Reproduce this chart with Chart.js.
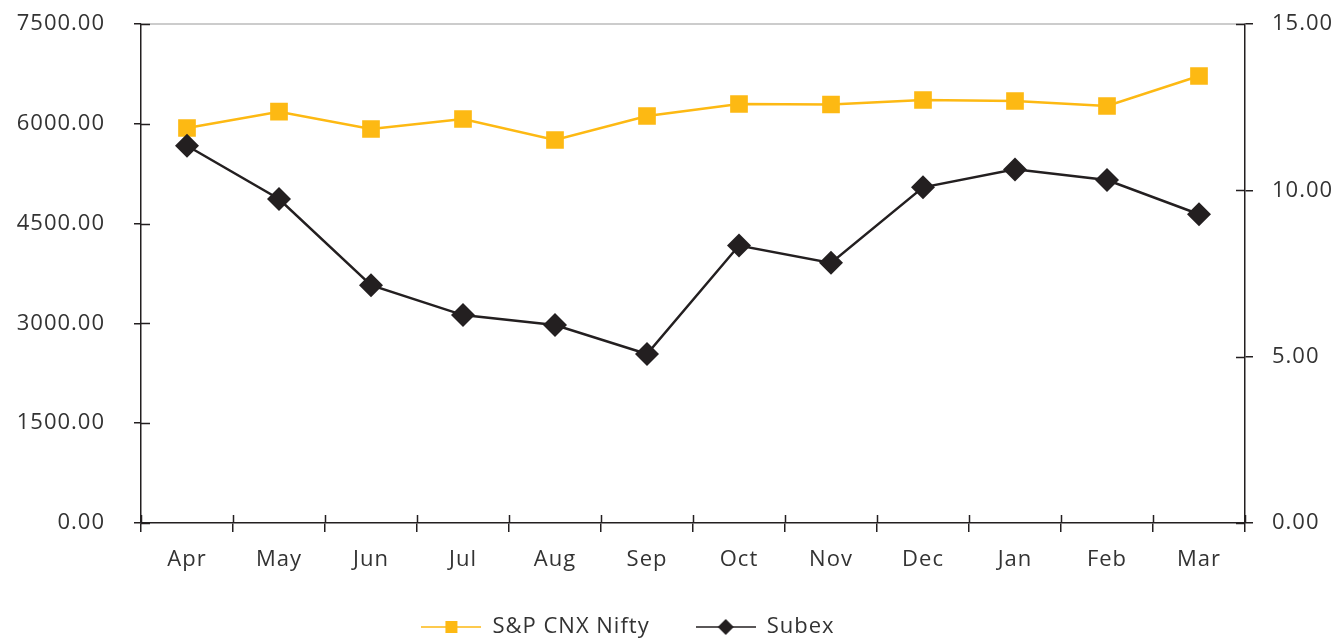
<!DOCTYPE html>
<html>
<head>
<meta charset="utf-8">
<script src="https://cdn.jsdelivr.net/npm/chart.js@4/dist/chart.umd.min.js"></script>
<style>
  html, body { margin: 0; padding: 0; background: #fff; }
  #wrap { width: 1336px; height: 638px; }
</style>
</head>
<body>
<div id="wrap"><canvas id="chart"></canvas></div>
<script>
// months on the x axis
const months = ["Apr", "May", "Jun", "Jul", "Aug", "Sep", "Oct", "Nov", "Dec", "Jan", "Feb", "Mar"];
// left axis series
const nifty = [5937, 6182, 5922, 6072, 5757, 6117, 6298, 6290, 6358, 6343, 6267, 6718];
// right axis series
const subex = [11.34, 9.74, 7.15, 6.25, 5.95, 5.08, 8.34, 7.82, 10.09, 10.63, 10.31, 9.28];
// tick settings
const leftMax = 7500, leftStep = 1500;
const rightMax = 15, rightStep = 5;

const yellow = "#FDB913";
const dark = "#231F20";
const textColor = "#333333";
const fontFamily = "'Open Sans', sans-serif";

// legend symbol: a short line with the marker in the middle
function legendIcon(color, kind) {
  const c = document.createElement("canvas");
  c.width = 60; c.height = 20;
  const g = c.getContext("2d");
  g.strokeStyle = color;
  g.lineWidth = 1.5;
  g.beginPath();
  g.moveTo(0, 10); g.lineTo(60, 10);
  g.stroke();
  g.fillStyle = color;
  if (kind == "square") {
    g.fillRect(24, 4, 12, 12);
  } else {
    g.beginPath();
    g.moveTo(30, 2); g.lineTo(38, 10); g.lineTo(30, 18); g.lineTo(22, 10);
    g.closePath();
    g.fill();
  }
  return c;
}

// the original font runs a bit wide; canvas resize resets ctx state so set it every time
const spacing = {
  id: "spacing",
  beforeUpdate(chart) { chart.ctx.letterSpacing = "1px"; },
  beforeDraw(chart) { chart.ctx.letterSpacing = "1px"; }
};

// ticks that cross the axes + light top border
const axisExtras = {
  id: "axisExtras",
  afterLayout(chart) {
    // let the month labels' descenders show below the x box
    chart.scales.x.bottom += 14;
  },
  beforeDatasetsDraw(chart) {
    const { ctx, chartArea, scales } = chart;
    ctx.save();
    ctx.strokeStyle = "#BBBBBB";
    ctx.lineWidth = 1.5;
    ctx.beginPath();
    ctx.moveTo(chartArea.left, chartArea.top);
    ctx.lineTo(chartArea.right, chartArea.top);
    ctx.stroke();

    ctx.strokeStyle = dark;
    ctx.lineWidth = 1.5;
    ctx.beginPath();
    scales.y.ticks.forEach(t => {
      const py = Math.round(scales.y.getPixelForValue(t.value)) + 0.5;
      ctx.moveTo(chartArea.left, py);
      ctx.lineTo(chartArea.left + 9, py);
    });
    scales.y1.ticks.forEach(t => {
      const py = Math.round(scales.y1.getPixelForValue(t.value)) + 0.5;
      ctx.moveTo(chartArea.right, py);
      ctx.lineTo(chartArea.right - 9, py);
    });
    const half = (scales.x.getPixelForValue(1) - scales.x.getPixelForValue(0)) / 2;
    for (let i = 0; i <= months.length; i++) {
      const px = Math.round(scales.x.getPixelForValue(i) - half) + 0.5;
      ctx.moveTo(px, chartArea.bottom);
      ctx.lineTo(px, chartArea.bottom - 8);
    }
    ctx.stroke();
    ctx.restore();
  }
};

const ctx = document.getElementById("chart");
new Chart(ctx, {
  type: "line",
  data: {
    labels: months,
    datasets: [
      {
        label: "S&P CNX Nifty",
        data: nifty,
        yAxisID: "y",
        borderColor: yellow,
        backgroundColor: yellow,
        borderWidth: 2.5,
        pointStyle: "rect",
        pointRadius: 12.5,
        pointBorderWidth: 0,
        tension: 0,
        order: 2
      },
      {
        label: "Subex",
        data: subex,
        yAxisID: "y1",
        borderColor: dark,
        backgroundColor: dark,
        borderWidth: 2.5,
        pointStyle: "rectRot",
        pointRadius: 12,
        pointBorderWidth: 0,
        tension: 0,
        order: 1
      }
    ]
  },
  options: {
    responsive: true,
    maintainAspectRatio: false,
    animation: false,
    // negative left padding moves the legend centre left; the y axis width makes up for it
    layout: { padding: { top: 24, left: -80, right: 0, bottom: -10 } },
    plugins: {
      tooltip: { enabled: false },
      legend: {
        position: "bottom",
        labels: {
          usePointStyle: true,
          pointStyleWidth: 60,
          boxHeight: 20,
          padding: 46,
          color: textColor,
          font: { family: fontFamily, size: 22 },
          generateLabels: (chart) => [
            { text: "S&P CNX Nifty", pointStyle: legendIcon(yellow, "square"), fontColor: textColor, datasetIndex: 0, lineWidth: 0, strokeStyle: "transparent", fillStyle: yellow },
            { text: "Subex", pointStyle: legendIcon(dark, "diamond"), fontColor: textColor, datasetIndex: 1, lineWidth: 0, strokeStyle: "transparent", fillStyle: dark }
          ]
        }
      }
    },
    scales: {
      x: {
        offset: true,
        grid: { display: true, offset: true, drawOnChartArea: false, color: dark, lineWidth: 1.5, tickLength: 9 },
        border: { display: true, color: dark, width: 1.5 },
        ticks: { color: textColor, font: { family: fontFamily, size: 22 }, padding: 15, maxRotation: 0 },
        afterFit: (scale) => { scale.height = 47; }
      },
      y: {
        position: "left",
        min: 0,
        max: leftMax,
        grid: { display: true, drawOnChartArea: false, color: dark, lineWidth: 1.5, tickLength: 7 },
        border: { display: true, color: dark, width: 1.5 },
        ticks: {
          stepSize: leftStep,
          color: textColor,
          font: { family: fontFamily, size: 22 },
          padding: 29,
          callback: (v) => Number(v).toFixed(2)
        },
        afterFit: (scale) => { scale.width = 221; scale.paddingTop = 0; scale.paddingBottom = 0; }
      },
      y1: {
        position: "right",
        min: 0,
        max: rightMax,
        grid: { display: true, drawOnChartArea: false, color: dark, lineWidth: 1.5, tickLength: 8 },
        border: { display: true, color: dark, width: 1.5 },
        ticks: {
          stepSize: rightStep,
          color: textColor,
          font: { family: fontFamily, size: 22 },
          padding: 19,
          callback: (v) => Number(v).toFixed(2)
        },
        afterFit: (scale) => { scale.width = 91; scale.paddingTop = 0; scale.paddingBottom = 0; }
      }
    }
  },
  plugins: [spacing, axisExtras]
});
</script>
</body>
</html>
